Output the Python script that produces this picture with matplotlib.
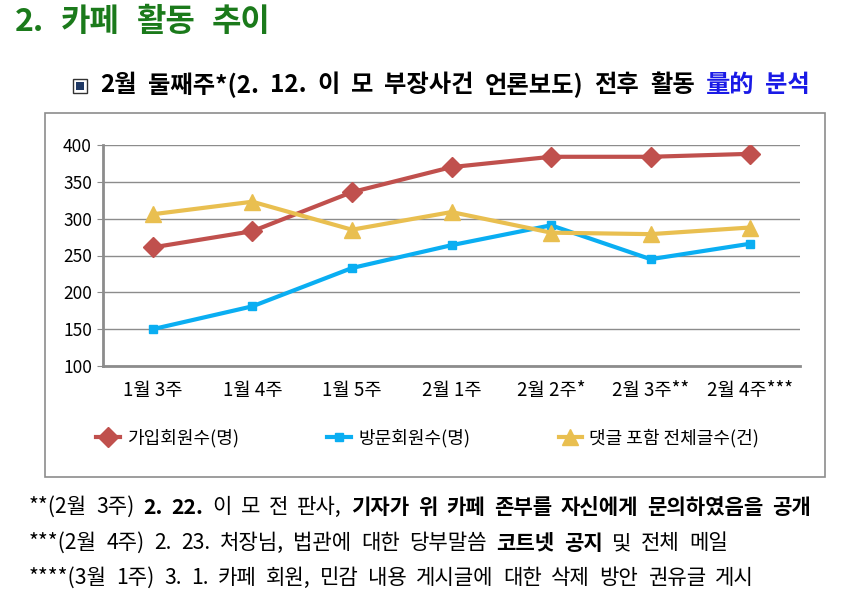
import matplotlib
matplotlib.use('Agg')
import matplotlib.pyplot as plt
import matplotlib.patches as patches

plt.rcParams['font.family'] = ['Noto Sans CJK KR', 'DejaVu Sans']

# 데이터
weeks = ['1월 3주', '1월 4주', '1월 5주', '2월 1주', '2월 2주*', '2월 3주**', '2월 4주***']
members = [261, 283, 336, 370, 384, 384, 388]
visitors = [150, 181, 233, 264, 291, 245, 266]
posts = [306, 323, 285, 309, 281, 279, 288]
series_names = ['가입회원수(명)', '방문회원수(명)', '댓글 포함 전체글수(건)']
y_ticks = [100, 150, 200, 250, 300, 350, 400]

W, H = 848, 603
fig = plt.figure(figsize=(W / 100, H / 100), dpi=100)

# 차트 바깥 테두리
frame = patches.Rectangle((45 / W, 1 - 477 / H), 780 / W, 364 / H, transform=fig.transFigure,
                          facecolor='none', edgecolor='#8c8c8c', linewidth=1.2, zorder=5)
fig.patches.append(frame)

ax = fig.add_axes([103 / W, 1 - 366 / H, 697 / W, 221 / H])
x = range(len(weeks))
ax.plot(x, members, color='#C0504D', lw=3, marker='D', ms=10, label=series_names[0])
ax.plot(x, visitors, color='#0AAEF2', lw=3, marker='s', ms=6, label=series_names[1])
ax.plot(x, posts, color='#E9BF50', lw=3, marker='^', ms=12, label=series_names[2])

ax.set_xlim(-0.5, len(weeks) - 0.5)
ax.set_ylim(100, 400)
ax.set_yticks(y_ticks)
ax.set_xticks(list(x))
ax.set_xticklabels(weeks)
ax.grid(axis='y', color='#8c8c8c', lw=1)
ax.set_axisbelow(True)
for s in ['top', 'right']:
    ax.spines[s].set_visible(False)
ax.spines['left'].set_color('#8c8c8c')
ax.spines['left'].set_linewidth(2)
ax.spines['bottom'].set_color('#8c8c8c')
ax.spines['bottom'].set_linewidth(2)
ax.tick_params(axis='y', length=4, color='#8c8c8c', labelsize=12.5, pad=4)
ax.tick_params(axis='x', length=0, labelsize=13.5, pad=10)

leg = fig.legend(loc='center left', bbox_to_anchor=(80 / W, 1 - 438 / H), ncol=3, frameon=False,
                 fontsize=13, handlelength=1.3, columnspacing=4.9, handletextpad=0.4)

renderer = fig.canvas.get_renderer()


def rich(x0, x1, y0, parts, size):
    # parts: (문자열, 굵기, 색) -> 단어 간격을 넓혀 x0~x1 사이에 배치
    words = [[]]
    for s, w, c in parts:
        for i, chunk in enumerate(s.split(' ')):
            if i > 0:
                words.append([])
            if chunk:
                words[-1].append((chunk, w, c))
    words = [wd for wd in words if wd]
    placed = []
    total = 0
    for wd in words:
        items = []
        for chunk, w, c in wd:
            t = fig.text(0, 1 - y0 / H, chunk, fontsize=size, fontweight=w, color=c, va='center')
            bw = t.get_window_extent(renderer).width
            items.append((t, bw))
            total += bw
        placed.append(items)
    gap = (x1 - x0 - total) / max(len(words) - 1, 1)
    xx = x0
    for items in placed:
        for t, bw in items:
            t.set_x(xx / W)
            xx += bw
        xx += gap


# 제목
rich(15, 270, 22, [('2. 카페 활동 추이', 'bold', '#1B7A1B')], 23)

# 소제목
box = patches.Rectangle((73 / W, 1 - 93 / H), 14 / W, 14 / H, transform=fig.transFigure,
                        facecolor='white', edgecolor='#333333', linewidth=1)
inner = patches.Rectangle((76 / W, 1 - 90 / H), 8 / W, 8 / H, transform=fig.transFigure,
                          facecolor='#1F3864', edgecolor='none')
fig.patches.extend([box, inner])
rich(100, 810, 85, [('2월 둘째주*(2. 12. 이 모 부장사건 언론보도) 전후 활동 ', 'bold', 'black'),
                    ('量的 분석', 'bold', '#1A1AE6')], 17.5)

# 각주
rich(29, 811, 507, [('**(2월 3주) ', 'normal', 'black'), ('2. 22.', 'bold', 'black'),
                    (' 이 모 전 판사, ', 'normal', 'black'),
                    ('기자가 위 카페 존부를 자신에게 문의하였음을 공개', 'bold', 'black')], 15.2)
rich(29, 728, 543, [('***(2월 4주) 2. 23. 처장님, 법관에 대한 당부말씀 ', 'normal', 'black'),
                    ('코트넷 공지', 'bold', 'black'), (' 및 전체 메일', 'normal', 'black')], 15.2)
rich(29, 754, 578, [('****(3월 1주) 3. 1. 카페 회원, 민감 내용 게시글에 대한 삭제 방안 권유글 게시',
                     'normal', 'black')], 15.2)

fig.savefig('out.png', dpi=100)
